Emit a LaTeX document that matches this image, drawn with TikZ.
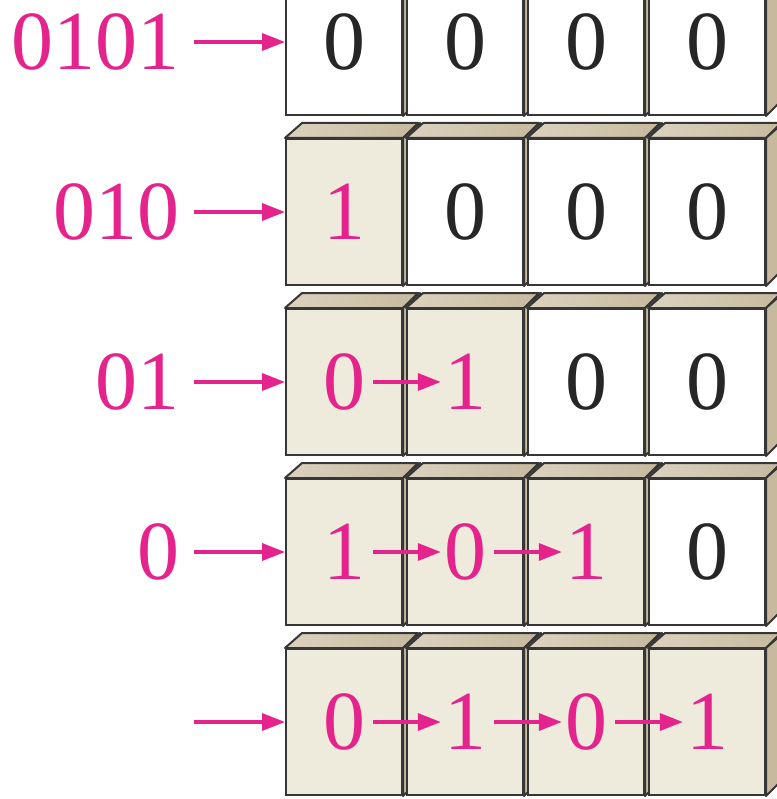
\documentclass[tikz,border=0pt]{standalone}
\usepackage{fontspec}
\setmainfont{Liberation Serif}
\usetikzlibrary{arrows.meta,positioning,backgrounds}
\definecolor{Pink}{HTML}{E4248C}
\definecolor{Beige}{HTML}{EEEADC}
\definecolor{TanL}{HTML}{DCD2BF}
\definecolor{TanD}{HTML}{C6B99E}
\definecolor{Edge}{HTML}{363636}

\begin{document}
\begin{tikzpicture}[x=1pt, y=-1pt,
  box/.style={rectangle, draw=Edge, line width=2pt, minimum width=116pt,
              minimum height=146pt, inner sep=0pt},
  emptybox/.style={box, fill=white},
  loadbox/.style={box, fill=Beige},
  bit/.style={inner sep=3pt, font=\fontsize{84}{84}\selectfont, text=Pink},
  zero/.style={bit, text=black!85},
  arr/.style={-{Triangle[length=23pt,width=17pt]}, line width=3.5pt, draw=Pink},
  face/.style={draw=Edge, line width=2pt, line join=round}
]
\useasboundingbox (0,0) rectangle (776,799);

% register after each shift
\node[emptybox] (b11) at (344,42)  {};
\node[emptybox] (b12) at (465,42)  {};
\node[emptybox] (b13) at (586,42)  {};
\node[emptybox] (b14) at (707,42)  {};
\node[loadbox]  (b21) at (344,212) {};
\node[emptybox] (b22) at (465,212) {};
\node[emptybox] (b23) at (586,212) {};
\node[emptybox] (b24) at (707,212) {};
\node[loadbox]  (b31) at (344,382) {};
\node[loadbox]  (b32) at (465,382) {};
\node[emptybox] (b33) at (586,382) {};
\node[emptybox] (b34) at (707,382) {};
\node[loadbox]  (b41) at (344,552) {};
\node[loadbox]  (b42) at (465,552) {};
\node[loadbox]  (b43) at (586,552) {};
\node[emptybox] (b44) at (707,552) {};
\node[loadbox]  (b51) at (344,722) {};
\node[loadbox]  (b52) at (465,722) {};
\node[loadbox]  (b53) at (586,722) {};
\node[loadbox]  (b54) at (707,722) {};

\node[zero] (v11) at (b11) {0};
\node[zero] (v12) at (b12) {0};
\node[zero] (v13) at (b13) {0};
\node[zero] (v14) at (b14) {0};
\node[bit]  (v21) at (b21) {1};
\node[zero] (v22) at (b22) {0};
\node[zero] (v23) at (b23) {0};
\node[zero] (v24) at (b24) {0};
\node[bit]  (v31) at (b31) {0};
\node[bit]  (v32) at (b32) {1};
\node[zero] (v33) at (b33) {0};
\node[zero] (v34) at (b34) {0};
\node[bit]  (v41) at (b41) {1};
\node[bit]  (v42) at (b42) {0};
\node[bit]  (v43) at (b43) {1};
\node[zero] (v44) at (b44) {0};
\node[bit]  (v51) at (b51) {0};
\node[bit]  (v52) at (b52) {1};
\node[bit]  (v53) at (b53) {0};
\node[bit]  (v54) at (b54) {1};

% serial input
\coordinate (s1) at (194,42);
\coordinate (s2) at (194,212);
\coordinate (s3) at (194,382);
\coordinate (s4) at (194,552);
\coordinate (s5) at (194,722);
\node[bit, inner sep=0pt, left=14pt of s1] (in1) {0101};
\node[bit, inner sep=0pt, left=14pt of s2] (in2) {010};
\node[bit, inner sep=0pt, left=14pt of s3] (in3) {01};
\node[bit, inner sep=0pt, left=14pt of s4] (in4) {0};

\draw[arr] (s1) -- (b11);
\draw[arr] (s2) -- (b21);
\draw[arr] (s3) -- (b31);
\draw[arr] (s4) -- (b41);
\draw[arr] (s5) -- (b51);

\draw[arr, shorten <=5pt] (v31) -- (v32);
\draw[arr, shorten <=5pt] (v41) -- (v42);
\draw[arr, shorten <=5pt] (v42) -- (v43);
\draw[arr, shorten <=5pt] (v51) -- (v52);
\draw[arr, shorten <=5pt] (v52) -- (v53);
\draw[arr, shorten <=5pt] (v53) -- (v54);

% 3d faces behind the fronts
\begin{scope}[on background layer]
\fill[white] (0,0) rectangle (776,799);
\foreach \nm in {b11,b12,b13,b14,b21,b22,b23,b24,b31,b32,b33,b34,
                 b41,b42,b43,b44,b51,b52,b53,b54} {
  \draw[face, left color=TanL, right color=TanD]
    (\nm.north west) -- ++(17,-15) -- ++(116,0) -- (\nm.north east) -- cycle;
  \draw[face, fill=TanD]
    (\nm.north east) -- ++(17,-15) -- ++(0,146) -- (\nm.south east) -- cycle;
}
\end{scope}
\end{tikzpicture}
\end{document}
